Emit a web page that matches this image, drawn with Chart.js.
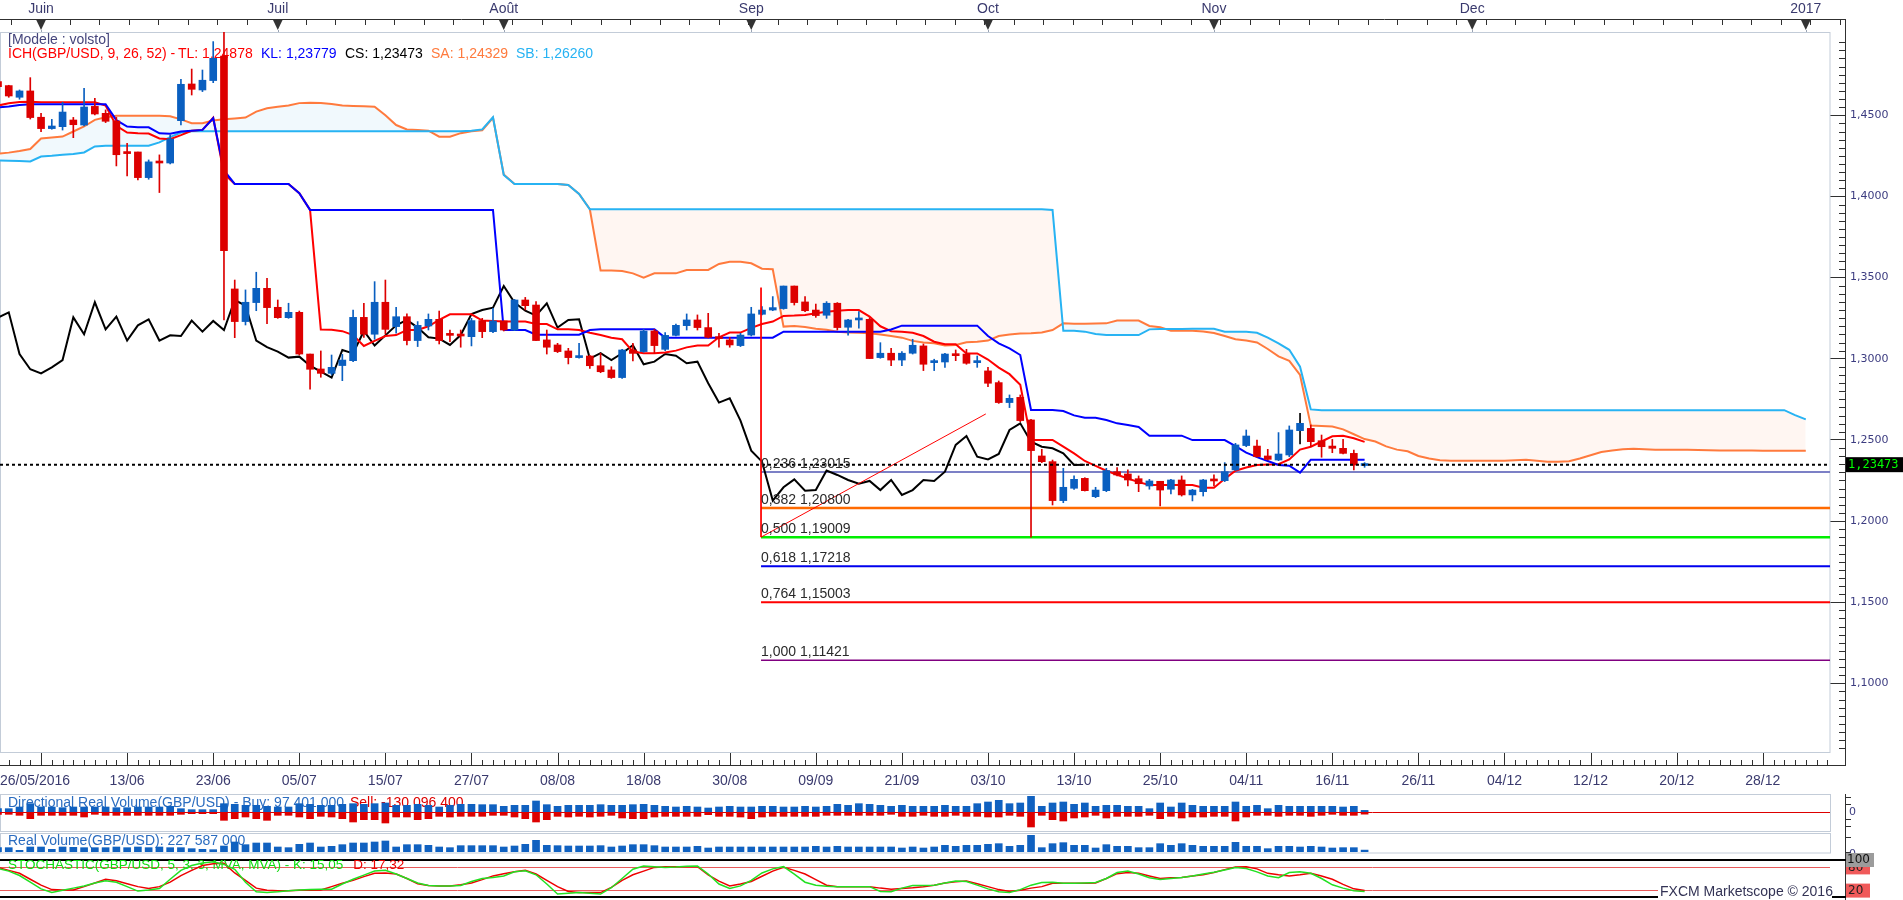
<!DOCTYPE html>
<html><head><meta charset="utf-8">
<script src="https://cdn.jsdelivr.net/npm/chart.js@4.4.1/dist/chart.umd.min.js"></script>
<style>
html,body{margin:0;padding:0;background:#fff;overflow:hidden;}
#wrap{position:relative;width:1903px;height:900px;}
canvas{position:absolute;left:0;}
</style></head><body>
<div id="wrap">
<canvas id="main" width="1903" height="900" style="top:0;width:1903px;height:900px"></canvas>
<canvas id="dir" width="1903" height="38" style="top:794px;width:1903px;height:38px"></canvas>
<canvas id="rvol" width="1903" height="21" style="top:833px;width:1903px;height:21px"></canvas>
<canvas id="stoch" width="1903" height="50" style="top:850px;width:1903px;height:50px"></canvas>
</div>
<script>
// ---------------- DATA ----------------
const candleOpen = [
1.4707,1.4683,1.4611,1.4650,1.4488,1.4418,1.4430,1.4471,1.4440,1.4555,
1.4512,1.4465,1.4272,1.4274,1.4116,1.4213,1.4206,1.4467,1.4693,1.4656,
1.4714,1.4865,1.3430,1.3229,1.3346,1.3434,1.3317,1.3253,1.3286,1.3029,
1.2937,1.2910,1.2958,1.2988,1.3255,1.3151,1.3348,1.3198,1.3259,1.3112,
1.3202,1.3243,1.3151,1.3144,1.3136,1.3235,1.3167,1.3233,1.3177,1.3362,
1.3331,1.3116,1.3085,1.3048,1.3007,1.3017,1.2957,1.2931,1.2884,1.3054,
1.3044,1.3171,1.3058,1.3144,1.3204,1.3239,1.3192,1.3130,1.3116,1.3081,
1.3146,1.3274,1.3300,1.3309,1.3448,1.3350,1.3300,1.3268,1.3342,1.3194,
1.3239,1.3243,1.3007,1.3034,1.2992,1.3034,1.3079,1.2976,1.2980,1.3029,
1.3029,1.2976,1.2925,1.2853,1.2730,1.2762,1.2623,1.2401,1.2366,1.2126,
1.2202,1.2263,1.2150,1.2187,1.2304,1.2290,1.2261,1.2216,1.2245,1.2196,
1.2253,1.2161,1.2181,1.2253,1.2249,1.2315,1.2465,1.2462,1.2401,1.2376,
1.2407,1.2557,1.2571,1.2495,1.2462,1.2448,1.2417,1.2342];
const candleHigh = [
1.4718,1.4685,1.4656,1.4732,1.4512,1.4475,1.4580,1.4487,1.4666,1.4605,
1.4533,1.4487,1.4327,1.4274,1.4225,1.4256,1.4379,1.4722,1.4785,1.4779,
1.4954,1.5018,1.3485,1.3424,1.3533,1.3496,1.3362,1.3342,1.3294,1.3029,
1.3048,1.3023,1.3027,1.3300,1.3342,1.3475,1.3485,1.3317,1.3276,1.3229,
1.3276,1.3294,1.3177,1.3177,1.3249,1.3249,1.3311,1.3233,1.3366,1.3378,
1.3352,1.3177,1.3095,1.3064,1.3095,1.3021,1.3034,1.2951,1.3058,1.3095,
1.3181,1.3181,1.3161,1.3214,1.3276,1.3270,1.3280,1.3157,1.3132,1.3157,
1.3317,1.3321,1.3383,1.3448,1.3448,1.3383,1.3337,1.3352,1.3346,1.3243,
1.3290,1.3253,1.3099,1.3064,1.3044,1.3120,1.3091,1.2997,1.3034,1.3054,
1.3058,1.3017,1.2947,1.2863,1.2777,1.2777,1.2627,1.2442,1.2376,1.2325,
1.2278,1.2267,1.2208,1.2325,1.2329,1.2315,1.2278,1.2257,1.2245,1.2257,
1.2278,1.2195,1.2257,1.2284,1.2360,1.2479,1.2561,1.2499,1.2442,1.2545,
1.2586,1.2664,1.2592,1.2530,1.2503,1.2503,1.2438,1.2360];
const candleLow = [
1.4666,1.4611,1.4599,1.4477,1.4399,1.4414,1.4409,1.4362,1.4434,1.4502,
1.4455,1.4188,1.4126,1.4102,1.4106,1.4024,1.4200,1.4440,1.4625,1.4646,
1.4701,1.3239,1.3130,1.3208,1.3296,1.3216,1.3249,1.3249,1.3023,1.2812,
1.2886,1.2900,1.2865,1.2982,1.3132,1.3120,1.3153,1.3157,1.3085,1.3075,
1.3177,1.3091,1.3105,1.3071,1.3079,1.3130,1.3161,1.3171,1.3173,1.3301,
1.3112,1.3029,1.3038,1.2968,1.3003,1.2941,1.2914,1.2879,1.2879,1.2986,
1.3040,1.3034,1.3050,1.3140,1.3177,1.3177,1.3128,1.3071,1.3071,1.3075,
1.3140,1.3270,1.3296,1.3305,1.3331,1.3290,1.3255,1.3249,1.3177,1.3146,
1.3188,1.3001,1.3003,1.2958,1.2958,1.3029,1.2927,1.2927,1.2947,1.2988,
1.2966,1.2947,1.2828,1.2725,1.2699,1.2612,1.1901,1.2360,1.2099,1.2113,
1.2195,1.2185,1.2144,1.2181,1.2278,1.2216,1.2181,1.2196,1.2093,1.2167,
1.2154,1.2124,1.2154,1.2216,1.2243,1.2311,1.2458,1.2393,1.2376,1.2372,
1.2397,1.2475,1.2458,1.2393,1.2421,1.2413,1.2315,1.2331];
const candleClose = [
1.4677,1.4619,1.4650,1.4486,1.4418,1.4434,1.4520,1.4442,1.4551,1.4508,
1.4463,1.4257,1.4264,1.4116,1.4213,1.4206,1.4354,1.4691,1.4660,1.4716,
1.4851,1.3666,1.3229,1.3348,1.3434,1.3315,1.3253,1.3286,1.3029,1.2935,
1.2910,1.2947,1.2992,1.3255,1.3151,1.3348,1.3181,1.3259,1.3112,1.3206,
1.3243,1.3112,1.3144,1.3140,1.3235,1.3167,1.3233,1.3177,1.3362,1.3327,
1.3112,1.3071,1.3044,1.3007,1.3013,1.2957,1.2920,1.2884,1.3054,1.3033,
1.3171,1.3081,1.3144,1.3206,1.3239,1.3192,1.3132,1.3124,1.3085,1.3146,
1.3276,1.3300,1.3315,1.3448,1.3346,1.3296,1.3266,1.3342,1.3192,1.3239,
1.3243,1.3001,1.3034,1.2992,1.3034,1.3083,1.2966,1.2982,1.3029,1.3019,
1.2972,1.2982,1.2849,1.2730,1.2756,1.2619,1.2434,1.2366,1.2126,1.2208,
1.2257,1.2187,1.2191,1.2311,1.2284,1.2253,1.2230,1.2247,1.2191,1.2253,
1.2161,1.2191,1.2253,1.2247,1.2304,1.2469,1.2524,1.2397,1.2380,1.2413,
1.2561,1.2602,1.2489,1.2458,1.2448,1.2417,1.2345,1.2347];

const tenkan = [
1.4560,1.4574,1.4582,1.4584,1.4580,1.4580,1.4580,1.4580,1.4580,1.4580,
1.4560,1.4435,1.4394,1.4390,1.4388,1.4357,1.4353,1.4378,1.4405,1.4410,
1.4485,1.4140,1.4077,1.4077,1.4077,1.4077,1.4077,1.4077,1.4020,1.3917,
1.3180,1.3178,1.3170,1.3146,1.3079,1.3110,1.3140,1.3146,1.3177,1.3177,
1.3200,1.3239,1.3274,1.3274,1.3274,1.3235,1.3233,1.3229,1.3229,1.3229,
1.3214,1.3214,1.3181,1.3181,1.3177,1.3160,1.3146,1.3130,1.3120,1.3044,
1.3034,1.3034,1.3038,1.3050,1.3070,1.3081,1.3081,1.3132,1.3161,1.3161,
1.3190,1.3214,1.3229,1.3264,1.3266,1.3270,1.3280,1.3290,1.3296,1.3300,
1.3300,1.3260,1.3200,1.3170,1.3167,1.3160,1.3140,1.3105,1.3090,1.3090,
1.3033,1.3033,1.2995,1.2945,1.2905,1.2840,1.2500,1.2500,1.2500,1.2458,
1.2417,1.2370,1.2340,1.2310,1.2285,1.2262,1.2240,1.2222,1.2222,1.2222,
1.2222,1.2222,1.2205,1.2205,1.2260,1.2310,1.2330,1.2345,1.2349,1.2350,
1.2380,1.2440,1.2458,1.2490,1.2522,1.2526,1.2510,1.2488];
const kijun = [
1.4548,1.4554,1.4564,1.4568,1.4568,1.4568,1.4568,1.4568,1.4568,1.4568,
1.4568,1.4470,1.4431,1.4426,1.4426,1.4389,1.4386,1.4400,1.4405,1.4410,
1.4482,1.4160,1.4077,1.4077,1.4077,1.4077,1.4077,1.4077,1.4020,1.3917,
1.3917,1.3917,1.3917,1.3917,1.3917,1.3917,1.3917,1.3917,1.3917,1.3917,
1.3917,1.3917,1.3917,1.3917,1.3917,1.3917,1.3917,1.3177,1.3177,1.3177,
1.3148,1.3148,1.3148,1.3148,1.3148,1.3177,1.3181,1.3181,1.3181,1.3181,
1.3181,1.3181,1.3130,1.3130,1.3130,1.3130,1.3130,1.3130,1.3130,1.3130,
1.3130,1.3130,1.3130,1.3167,1.3167,1.3167,1.3167,1.3167,1.3167,1.3167,
1.3167,1.3167,1.3167,1.3180,1.3204,1.3204,1.3204,1.3204,1.3204,1.3204,
1.3204,1.3204,1.3140,1.3095,1.3064,1.3023,1.2684,1.2684,1.2684,1.2678,
1.2651,1.2637,1.2637,1.2623,1.2602,1.2592,1.2580,1.2526,1.2526,1.2526,
1.2526,1.2499,1.2499,1.2499,1.2499,1.2462,1.2422,1.2394,1.2370,1.2346,
1.2341,1.2298,1.2378,1.2378,1.2378,1.2378,1.2378,1.2378];
// Chikou span: drawn from slot 0 (already displaced 26 bars back)
const chikou = [
1.3253,1.3286,1.3029,1.2935,1.2910,1.2947,1.2992,1.3255,1.3151,1.3348,
1.3181,1.3259,1.3112,1.3206,1.3243,1.3112,1.3144,1.3140,1.3235,1.3167,
1.3233,1.3177,1.3362,1.3327,1.3112,1.3071,1.3044,1.3007,1.3013,1.2957,
1.2920,1.2884,1.3054,1.3033,1.3171,1.3081,1.3144,1.3206,1.3239,1.3192,
1.3132,1.3124,1.3085,1.3146,1.3276,1.3300,1.3315,1.3448,1.3346,1.3296,
1.3266,1.3342,1.3192,1.3239,1.3243,1.3001,1.3034,1.2992,1.3034,1.3083,
1.2966,1.2982,1.3029,1.3019,1.2972,1.2982,1.2849,1.2730,1.2756,1.2619,
1.2434,1.2366,1.2126,1.2208,1.2257,1.2187,1.2191,1.2311,1.2284,1.2253,
1.2230,1.2247,1.2191,1.2253,1.2161,1.2191,1.2253,1.2247,1.2304,1.2469,
1.2524,1.2397,1.2380,1.2413,1.2561,1.2602,1.2489,1.2458,1.2448,1.2417,
1.2345,1.2347];
const senkouA = [
1.4263,1.4270,1.4280,1.4292,1.4357,1.4363,1.4369,1.4400,1.4431,1.4472,
1.4488,1.4497,1.4497,1.4497,1.4497,1.4497,1.4494,1.4475,1.4451,1.4451,
1.4468,1.4475,1.4480,1.4486,1.4523,1.4543,1.4552,1.4560,1.4575,1.4578,
1.4575,1.4570,1.4560,1.4558,1.4556,1.4553,1.4500,1.4440,1.4413,1.4409,
1.4405,1.4368,1.4368,1.4390,1.4402,1.4408,1.4485,1.4135,1.4077,1.4077,
1.4077,1.4077,1.4077,1.4070,1.4015,1.3921,1.3543,1.3543,1.3540,1.3526,
1.3500,1.3526,1.3526,1.3526,1.3547,1.3547,1.3547,1.3584,1.3598,1.3598,
1.3588,1.3555,1.3551,1.3198,1.3202,1.3195,1.3185,1.3178,1.3167,1.3162,
1.3160,1.3157,1.3150,1.3140,1.3130,1.3110,1.3100,1.3095,1.3081,1.3085,
1.3101,1.3104,1.3112,1.3140,1.3150,1.3155,1.3157,1.3162,1.3177,1.3218,
1.3216,1.3216,1.3217,1.3218,1.3235,1.3235,1.3235,1.3202,1.3194,1.3173,
1.3173,1.3173,1.3168,1.3158,1.3140,1.3120,1.3112,1.3100,1.3060,1.3015,
1.2987,1.2900,1.2588,1.2585,1.2582,1.2565,1.2535,1.2505,1.2490,1.2460,
1.2440,1.2430,1.2401,1.2385,1.2375,1.2372,1.2372,1.2372,1.2372,1.2372,
1.2372,1.2375,1.2378,1.2372,1.2365,1.2365,1.2368,1.2385,1.2405,1.2425,
1.2435,1.2442,1.2445,1.2443,1.2440,1.2440,1.2440,1.2440,1.2438,1.2436,
1.2435,1.2435,1.2434,1.2434,1.2433,1.2433,1.2433,1.2433,1.2433];
const senkouB = [
1.4222,1.4220,1.4218,1.4216,1.4246,1.4250,1.4257,1.4262,1.4271,1.4308,
1.4312,1.4312,1.4312,1.4312,1.4312,1.4333,1.4365,1.4394,1.4402,1.4402,
1.4402,1.4402,1.4402,1.4402,1.4402,1.4402,1.4402,1.4402,1.4402,1.4402,
1.4402,1.4402,1.4402,1.4402,1.4402,1.4402,1.4402,1.4402,1.4402,1.4402,
1.4402,1.4402,1.4402,1.4402,1.4405,1.4413,1.4488,1.4132,1.4077,1.4077,
1.4077,1.4077,1.4077,1.4070,1.4015,1.3921,1.3921,1.3921,1.3921,1.3921,
1.3921,1.3921,1.3921,1.3921,1.3921,1.3921,1.3921,1.3921,1.3921,1.3921,
1.3921,1.3921,1.3921,1.3921,1.3921,1.3921,1.3921,1.3921,1.3921,1.3921,
1.3921,1.3921,1.3921,1.3921,1.3921,1.3921,1.3921,1.3921,1.3921,1.3921,
1.3921,1.3921,1.3921,1.3921,1.3921,1.3921,1.3921,1.3921,1.3917,1.3173,
1.3173,1.3167,1.3152,1.3146,1.3146,1.3146,1.3146,1.3181,1.3183,1.3183,
1.3183,1.3185,1.3185,1.3185,1.3167,1.3167,1.3167,1.3160,1.3130,1.3095,
1.3055,1.2951,1.2688,1.2683,1.2683,1.2683,1.2683,1.2683,1.2683,1.2683,
1.2683,1.2683,1.2683,1.2683,1.2683,1.2683,1.2683,1.2683,1.2683,1.2683,
1.2683,1.2683,1.2683,1.2683,1.2683,1.2683,1.2683,1.2683,1.2683,1.2683,
1.2683,1.2683,1.2683,1.2683,1.2683,1.2683,1.2683,1.2683,1.2683,1.2683,
1.2683,1.2683,1.2683,1.2683,1.2683,1.2683,1.2683,1.2653,1.2626];

const lastPrice = 1.23473;
const fibRatios = ['0,236','0,382','0,500','0,618','0,764','1,000'];
const fibPrices = [1.23015,1.20800,1.19009,1.17218,1.15003,1.11421];
const fibStartSlot = 70.91;
const fibVertTop = 1.3438;
const fibTrendEnd = {slot: 91.8, price: 1.2660};

const buyVol = [200,
200,300,500,300,300,260,300,300,300,300,
260,260,300,300,300,340,200,140,140,140,
500,460,400,400,340,300,300,500,460,400,
400,460,500,460,500,540,400,400,460,400,
300,400,460,460,440,440,340,400,400,660,
440,340,400,400,400,440,400,400,440,460,
400,340,300,340,300,240,300,340,300,300,
340,340,300,300,340,300,340,460,400,500,
460,400,340,400,340,340,340,400,
340,340,500,600,700,500,540,940,340,540,600,460,540,340,400,400,340,340,200,540,
300,540,400,340,340,340,600,340,400,200,400,340,340,340,340,340,300,340,97];
const sellVol = [140,
140,200,400,200,200,200,200,300,140,200,
200,200,200,200,200,200,140,100,100,100,
500,400,300,400,500,200,200,300,400,260,
300,400,600,460,460,660,300,300,460,400,
260,300,260,260,260,200,200,300,400,600,
460,260,300,260,300,260,200,360,400,400,
300,260,260,260,260,160,260,260,300,400,
300,260,260,260,260,260,200,200,200,200,
200,200,140,260,260,200,260,260,
200,260,260,300,300,200,260,900,200,460,540,360,300,200,360,260,260,260,200,400,
260,360,300,300,260,260,540,300,200,200,260,200,200,260,200,140,200,200,130];
const realVol = [520,
520,200,600,600,320,600,560,520,520,520,
600,520,600,520,600,520,520,400,320,280,
720,1200,880,1080,1080,600,520,920,1080,600,
680,880,1080,1080,1200,1320,600,880,880,800,
600,520,760,760,760,760,600,720,920,1400,
800,760,720,720,720,760,600,720,880,880,
760,600,600,600,680,480,600,600,600,600,
600,600,600,600,600,680,600,680,600,600,
600,600,600,480,600,480,600,800,
680,800,800,920,1000,680,800,2000,520,1000,1120,800,800,480,880,680,680,520,520,1000,
800,1000,800,680,680,680,1160,680,680,400,680,680,600,680,600,480,520,520,228];

const stochK = [
77,70,58,40,22,12,18,24,30,38,
44,40,28,16,19,23,48,72,85,92,
95,88,75,40,14,12,14,17,19,20,
21,21,35,48,59,70,72,62,50,38,
31,30,30,31,42,50,53,57,68,71,
60,35,8,10,12,10,8,25,50,75,
84,82,80,81,83,84,62,35,23,30,
45,65,76,82,62,40,32,29,28,28,
28,28,15,14,24,31,31,32,38,43,
42,32,22,14,12,20,32,39,40,37,
37,38,39,50,66,70,62,52,47,50,
53,57,62,67,73,80,77,68,57,52,
66,68,64,50,33,24,17,15.05];
const stochD = [
80,72,64,48,32,20,19,19,28,38,
48,44,36,28,23,28,40,58,72,85,
90,91,65,45,24,18,17,17,18,18,
19,28,37,45,55,64,65,62,50,36,
31,30,30,33,38,47,57,63,68,72,
62,45,28,15,12,12,12,26,45,60,
70,80,82,82,82,82,60,43,30,35,
42,56,70,80,72,62,47,32,28,28,
28,28,24,21,23,25,28,32,38,41,
43,36,28,20,15,18,24,28,37,37,
37,37,38,50,63,66,64,57,50,52,
53,57,60,66,74,81,82,76,64,60,
57,60,64,57,48,34,22,17.32];

const priceTicks = [1.10,1.15,1.20,1.25,1.30,1.35,1.40,1.45];
const monthLabels = ['Juin','Juil','Août','Sep','Oct','Nov','Dec','2017'];
const monthSlots = [4,26,47,70,92,113,137,168];
const dateLabels = ['13/06','23/06','05/07','15/07','27/07','08/08','18/08','30/08','09/09','21/09','03/10','13/10','25/10','04/11','16/11','26/11','04/12','12/12','20/12','28/12'];
const dateSlots = [12,20,28,36,44,52,60,68,76,84,92,100,108,116,124,132,140,148,156,164];
const firstDateLabel = '26/05/2016';

// ---------------- LAYOUT ----------------
const X_MIN = 0.186, X_MAX = 170.25;
const Y_MIN = 1.0577, Y_MAX = 1.50132;
const BULL = '#0a5fc0', BEAR = '#dd0000';
const FONT = "'Liberation Sans', Arial, sans-serif";
Chart.defaults.font.family = FONT;

function pts(arr){ return arr.map((v,i)=>({x:i, y:v})); }
function txt(ctx, s, x, y, color, font, align, base){
  ctx.fillStyle = color; ctx.font = font; ctx.textAlign = align || 'left';
  ctx.textBaseline = base || 'middle'; ctx.fillText(s, x, y);
}
function hline(ctx, x1, x2, y, color, w){
  ctx.strokeStyle = color; ctx.lineWidth = w || 1; ctx.beginPath(); ctx.moveTo(x1, y); ctx.lineTo(x2, y); ctx.stroke();
}
function vline(ctx, x, y1, y2, color, w){
  ctx.strokeStyle = color; ctx.lineWidth = w || 1; ctx.beginPath(); ctx.moveTo(x, y1); ctx.lineTo(x, y2); ctx.stroke();
}

const candleColor = candleOpen.map((o,i)=> candleClose[i] >= o ? BULL : BEAR);
const wickColor = candleColor.slice(); wickColor[121] = '#000000';
const fibColors = ['#7c80c6','#ff6a00','#00ee00','#0000ee','#ff0000','#800080'];
const fibWidths = [2,2.5,2.5,2,2,1.5];

const mainDecor = {
  id: 'mainDecor',
  beforeDatasetsDraw(chart){
    const ctx = chart.ctx, a = chart.chartArea;
    ctx.save();
    ctx.strokeStyle = '#c3ccd8'; ctx.lineWidth = 1;
    ctx.strokeRect(0.5, a.top + 0.5, a.right - 0.5, a.bottom - a.top);
    const f = '14px ' + FONT;
    txt(ctx, '[Modele : volsto]', 8, 40, '#45457c', f);
    txt(ctx, 'ICH(GBP/USD, 9, 26, 52) -', 8, 54, '#ff0000', f);
    txt(ctx, 'TL: 1,24878', 178, 54, '#ff0000', f);
    txt(ctx, 'KL: 1,23779', 261, 54, '#0000ff', f);
    txt(ctx, 'CS: 1,23473', 345, 54, '#000000', f);
    txt(ctx, 'SA: 1,24329', 431, 54, '#ff7a3d', f);
    txt(ctx, 'SB: 1,26260', 516, 54, '#27b3f3', f);
    ctx.restore();
  },
  afterDatasetsDraw(chart){
    const ctx = chart.ctx, xs = chart.scales.x, ys = chart.scales.y;
    ctx.save();
    const x0 = xs.getPixelForValue(fibStartSlot);
    fibPrices.forEach((p,k)=>{
      const s = fibRatios[k] + ' ' + p.toFixed(5).replace('.', ',');
      txt(ctx, s, x0, ys.getPixelForValue(p) - 4, '#2a2a2a', '14px ' + FONT, 'left', 'alphabetic');
    });
    ctx.restore();
  },
  afterDraw(chart){
    const ctx = chart.ctx, xs = chart.scales.x, ys = chart.scales.y;
    const dark = '#303030', lab = '#3a3a6e';
    ctx.save();
    // top ruler
    hline(ctx, 0, 1846, 19.5, dark, 1);
    for (let x = 10.5; x < 1840; x += 29.5) vline(ctx, Math.round(x) + 0.5, 19.5, 25, dark, 1);
    monthSlots.forEach((s,k)=>{
      const x = xs.getPixelForValue(s);
      ctx.fillStyle = '#333'; ctx.beginPath(); ctx.moveTo(x-5, 19.5); ctx.lineTo(x+5, 19.5); ctx.lineTo(x, 30); ctx.closePath(); ctx.fill();
      vline(ctx, Math.round(x)+0.5, 30, 32, '#9aa4b4', 1);
      txt(ctx, monthLabels[k], x, 9.5, lab, '14px ' + FONT, 'center');
    });
    // bottom ruler
    hline(ctx, 0, 1846, 765.5, dark, 1);
    for (let s = 1; s <= 170; s++){
      const x = Math.round(xs.getPixelForValue(s)) + 0.5;
      vline(ctx, x, 760, 765.5, dark, 1);
    }
    [4].concat(dateSlots).forEach(s=>{
      const x = Math.round(xs.getPixelForValue(s)) + 0.5;
      vline(ctx, x, 753, 765.5, dark, 1);
    });
    txt(ctx, firstDateLabel, 0, 781, lab, '14px ' + FONT, 'left');
    dateSlots.forEach((s,k)=> txt(ctx, dateLabels[k], xs.getPixelForValue(s), 781, lab, '14px ' + FONT, 'center'));
    // right axis line & minor ticks
    vline(ctx, 1845.5, 19.5, 765.5, dark, 1);
    vline(ctx, 1845.5, 794, 900, dark, 1);
    for (let v = 1.060; v < 1.501; v += 0.005){
      const r = Math.round(v * 1000);
      if (r % 50 === 0) continue;
      const y = Math.round(ys.getPixelForValue(v)) + 0.5;
      hline(ctx, 1839, 1846, y, dark, 1);
    }
    // last price box
    const yp = ys.getPixelForValue(lastPrice);
    ctx.fillStyle = '#000'; ctx.fillRect(1846, yp - 7.5, 57, 15);
    txt(ctx, '1,23473', 1848, yp + 0.5, '#00ff00', "12px 'DejaVu Sans Mono', monospace", 'left');
    ctx.restore();
  }
};

const lineDS = (data, color, w, order, extra) => Object.assign({type:'line', data, borderColor:color, borderWidth:w, pointRadius:0, fill:false, order}, extra || {});

new Chart(document.getElementById('main'), {
  type: 'line',
  data: { datasets: [
    lineDS(pts(senkouA), '#ff7a3d', 2, 50, {label:'SA', fill:{target:'+1', above:'#f1f9fd', below:'#fff6f2'}}),
    lineDS(pts(senkouB), '#27b3f3', 2, 49, {label:'SB'}),
    ...fibPrices.map((p,k)=> lineDS([{x:fibStartSlot,y:p},{x:X_MAX,y:p}], fibColors[k], fibWidths[k], 45)),
    lineDS(pts(chikou), '#000000', 2, 30, {label:'CS'}),
    lineDS(pts(tenkan), '#ff0000', 2, 28, {label:'TL'}),
    lineDS(pts(kijun), '#0000ff', 2, 27, {label:'KL'}),
    {type:'bar', label:'wick', data: candleHigh.map((h,i)=>({x:i, y:[candleLow[i], h]})), backgroundColor: wickColor, barThickness:1, grouped:false, order:12},
    {type:'bar', label:'body', data: candleOpen.map((o,i)=>({x:i, y:[o, candleClose[i]]})), backgroundColor: candleColor, barThickness:7, minBarLength:2, grouped:false, order:11},
    lineDS([{x:fibStartSlot,y:fibVertTop},{x:fibStartSlot,y:fibPrices[2]}], '#ff0000', 1, 8),
    lineDS([{x:fibStartSlot,y:fibPrices[2]},{x:fibTrendEnd.slot,y:fibTrendEnd.price}], '#ff0000', 1, 8),
    lineDS([{x:X_MIN,y:lastPrice},{x:X_MAX,y:lastPrice}], '#000000', 2, 5, {borderDash:[3,3]})
  ]},
  options: {
    responsive:false, animation:false, devicePixelRatio:1,
    layout:{padding:{top:32, bottom:148, left:0, right:0}},
    plugins:{legend:{display:false}, tooltip:{enabled:false}},
    elements:{line:{tension:0}},
    scales:{
      x:{type:'linear', min:X_MIN, max:X_MAX, display:false, offset:false},
      y:{type:'linear', position:'right', min:Y_MIN, max:Y_MAX,
         afterFit(s){ s.width = 73; },
         afterBuildTicks(s){ s.ticks = priceTicks.map(v=>({value:v})); },
         ticks:{callback:(v)=> Number(v).toFixed(4).replace('.', ','), color:'#3c3c80', font:{family:"'DejaVu Sans', sans-serif", size:11}, padding:4, autoSkip:false},
         grid:{drawOnChartArea:false, drawTicks:true, tickLength:16, color:'#303030'},
         border:{display:false}
      }
    }
  },
  plugins:[mainDecor]
});

// ---------- Directional real volume ----------
const panelX = {type:'linear', min:X_MIN, max:X_MAX, display:false, offset:false};
new Chart(document.getElementById('dir'), {
  type:'bar',
  data:{datasets:[
    {data: buyVol.map((v,i)=>({x:i,y:v})), backgroundColor:'#1061c0', barThickness:7, grouped:false},
    {data: sellVol.map((v,i)=>({x:i,y:-v})), backgroundColor:'#dd0000', barThickness:7, grouped:false}
  ]},
  options:{responsive:false, animation:false, devicePixelRatio:1,
    layout:{padding:{top:1,bottom:2,left:0,right:73}},
    plugins:{legend:{display:false}, tooltip:{enabled:false}},
    scales:{x:panelX, y:{min:-1080, max:1020, display:false}}},
  plugins:[{
    id:'dirDecor',
    beforeDatasetsDraw(chart){
      const ctx = chart.ctx; ctx.save();
      ctx.strokeStyle = '#c3ccd8'; ctx.lineWidth = 1; ctx.strokeRect(0.5, 0.5, 1830, 37);
      txt(ctx, 'Directional Real Volume(GBP/USD) - Buy: 97 401 000', 8, 9, '#2a6cc0', '14px ' + FONT);
      txt(ctx, 'Sell: -130 096 400', 350, 9, '#dd0000', '14px ' + FONT);
      ctx.restore();
    },
    afterDatasetsDraw(chart){
      const ctx = chart.ctx, y0 = Math.round(chart.scales.y.getPixelForValue(0)) + 0.5;
      ctx.save(); hline(ctx, 0, 1830, y0, '#dd0000', 1);
      [3,10,25,32].forEach(y=> hline(ctx, 1846, 1851, y + 0.5, '#303030', 1));
      txt(ctx, '0', 1849, y0, '#3c3c80', "11px 'DejaVu Sans', sans-serif");
      ctx.restore();
    }
  }]
});

// ---------- Real volume ----------
new Chart(document.getElementById('rvol'), {
  type:'bar',
  data:{datasets:[{data: realVol.map((v,i)=>({x:i,y:v})), backgroundColor:'#1061c0', barThickness:7, grouped:false}]},
  options:{responsive:false, animation:false, devicePixelRatio:1,
    layout:{padding:{top:2,bottom:2,left:0,right:73}},
    plugins:{legend:{display:false}, tooltip:{enabled:false}},
    scales:{x:panelX, y:{min:0, max:2040, display:false}}},
  plugins:[{
    id:'rvDecor',
    beforeDatasetsDraw(chart){
      const ctx = chart.ctx; ctx.save();
      ctx.strokeStyle = '#c3ccd8'; ctx.lineWidth = 1; ctx.strokeRect(0.5, 0.5, 1830, 19.5);
      txt(ctx, 'Real Volume(GBP/USD): 227 587 000', 8, 8, '#2a6cc0', '14px ' + FONT);
      ctx.restore();
    },
    afterDraw(chart){
      const ctx = chart.ctx; ctx.save();
      hline(ctx, 1846, 1851, 4.5, '#303030', 1);
      hline(ctx, 1846, 1851, 19.5, '#303030', 1);
      txt(ctx, '0', 1849, 16, '#3c3c80', "11px 'DejaVu Sans', sans-serif", 'left', 'top');
      ctx.restore();
    }
  }]
});

// ---------- Stochastic ----------
new Chart(document.getElementById('stoch'), {
  type:'line',
  data:{datasets:[
    {data: pts(stochK), borderColor:'#22e022', borderWidth:1.5, pointRadius:0, fill:false, tension:0},
    {data: pts(stochD), borderColor:'#ee0000', borderWidth:1.5, pointRadius:0, fill:false, tension:0}
  ]},
  options:{responsive:false, animation:false, devicePixelRatio:1,
    layout:{padding:{top:10,bottom:3,left:0,right:73}},
    plugins:{legend:{display:false}, tooltip:{enabled:false}},
    scales:{x:panelX, y:{min:0, max:100, display:false}}},
  plugins:[{
    id:'stDecor',
    beforeDatasetsDraw(chart){
      const ctx = chart.ctx, ys = chart.scales.y; ctx.save();
      hline(ctx, 0, 1846, Math.round(ys.getPixelForValue(100)), '#000', 2);
      hline(ctx, 0, 1846, Math.round(ys.getPixelForValue(0)), '#000', 2);
      hline(ctx, 0, 1830, Math.round(ys.getPixelForValue(80)) + 0.5, '#e85a5a', 1);
      hline(ctx, 0, 1830, Math.round(ys.getPixelForValue(20)) + 0.5, '#e85a5a', 1);
      const f = '13.5px ' + FONT;
      const s1 = 'STOCHASTIC(GBP/USD, 5, 3, 3, MVA, MVA) - K: 15,05';
      txt(ctx, s1, 8, 15, '#10dd10', f);
      ctx.font = f; const w = ctx.measureText(s1).width;
      txt(ctx, 'D: 17,32', Math.max(348, 8 + w + 10), 15, '#ee0000', f);
      ctx.restore();
    },
    afterDraw(chart){
      const ctx = chart.ctx, ys = chart.scales.y; ctx.save();
      ctx.fillStyle = '#fff'; ctx.fillRect(1658, 36, 174, 14);
      txt(ctx, 'FXCM Marketscope © 2016', 1660, 42.5, '#333355', '14px ' + FONT);
      const lf = "12px 'DejaVu Sans', sans-serif";
      const y80 = ys.getPixelForValue(80), y100 = ys.getPixelForValue(100), y20 = ys.getPixelForValue(20);
      ctx.fillStyle = '#f05a5a'; ctx.fillRect(1846, y80 - 7, 24, 14);
      txt(ctx, '80', 1848, y80, '#222', lf);
      ctx.fillStyle = '#9c9c9c'; ctx.fillRect(1846, y100 - 7, 28, 14);
      txt(ctx, '100', 1847, y100, '#111', lf);
      ctx.fillStyle = '#f05a5a'; ctx.fillRect(1846, y20 - 6, 24, 14);
      txt(ctx, '20', 1848, y20 + 1, '#222', lf);
      ctx.restore();
    }
  }]
});
</script>
</body></html>
